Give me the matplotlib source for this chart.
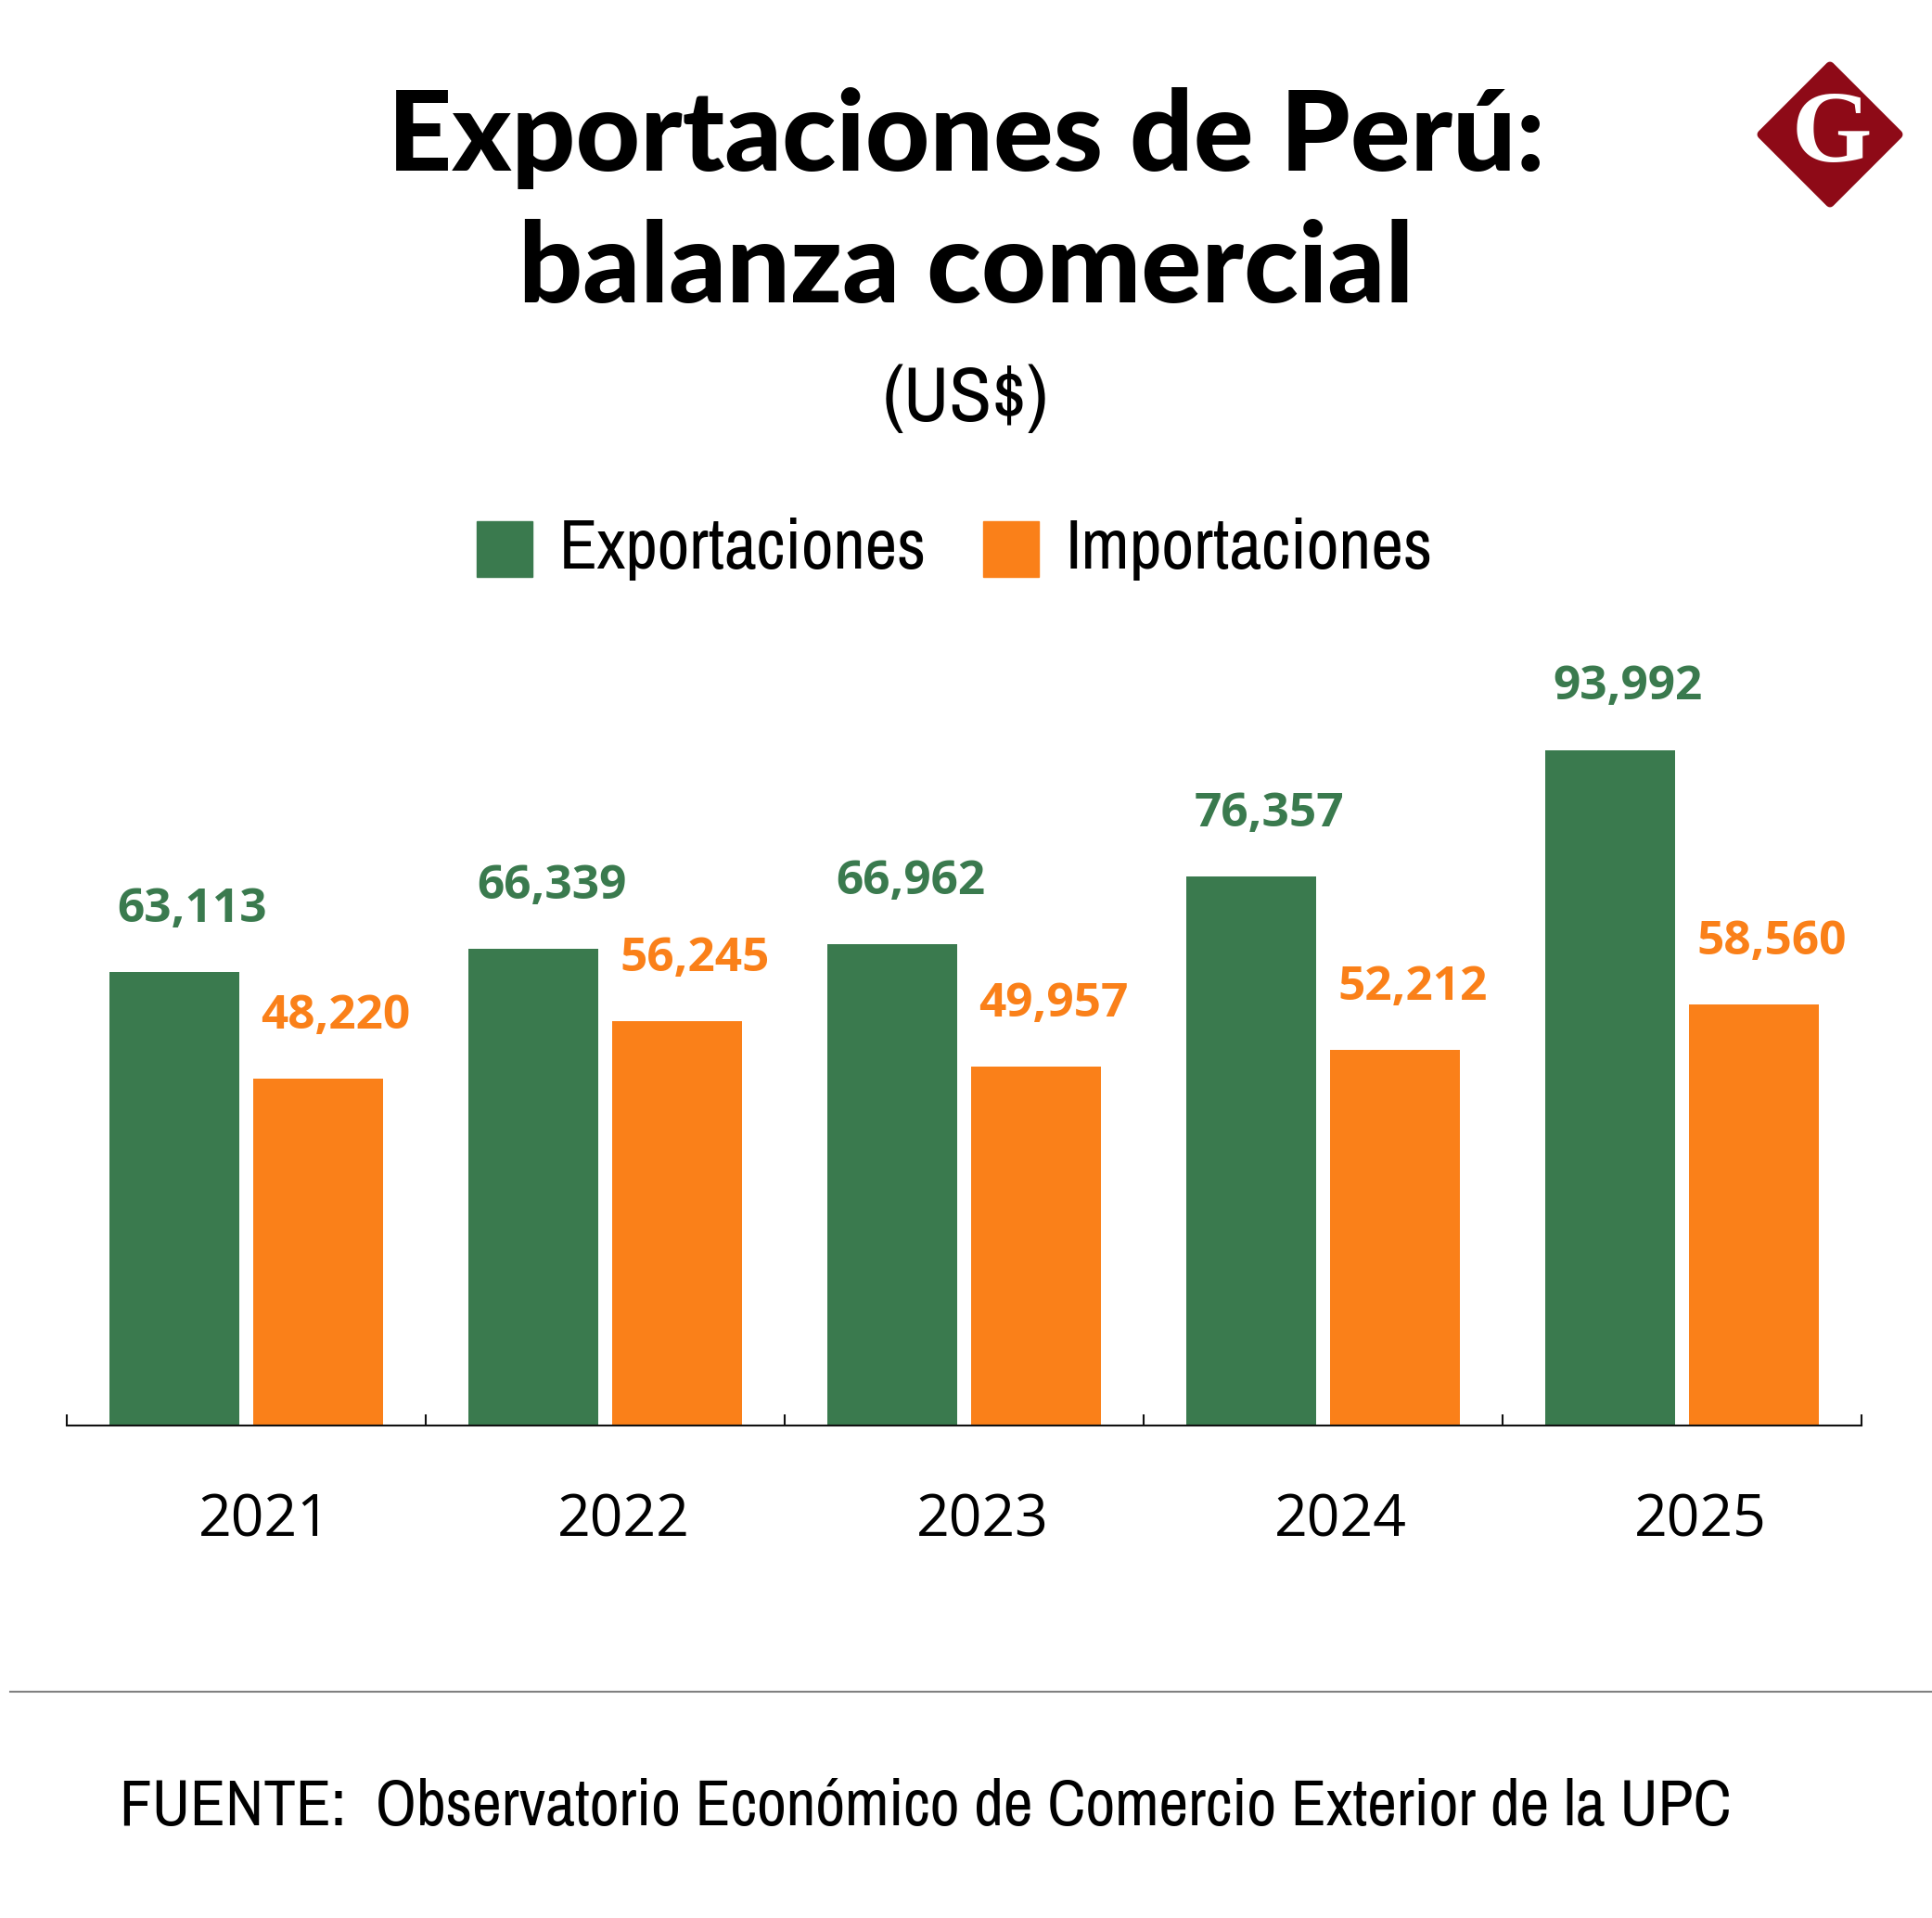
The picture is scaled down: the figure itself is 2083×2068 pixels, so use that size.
import matplotlib
matplotlib.use("Agg")
import matplotlib.pyplot as plt
from matplotlib import font_manager
from matplotlib.font_manager import FontProperties
from matplotlib.patches import Rectangle, Polygon
from matplotlib.lines import Line2D
import numpy as np

# data
years = ["2021", "2022", "2023", "2024", "2025"]
exportaciones = [63113, 66339, 66962, 76357, 93992]
importaciones = [48220, 56245, 49957, 52212, 58560]

GREEN = "#3A7A4E"
ORANGE = "#FA8019"
W, H = 2083, 2068


def pick(names):
    for n in names:
        try:
            font_manager.findfont(n, fallback_to_default=False)
            return n
        except Exception:
            pass
    return "DejaVu Sans"


def narrow_file():
    # look for a condensed / narrow face that is not bold
    best = None
    for f in font_manager.fontManager.ttflist:
        nm = f.name.lower()
        if ("cond" in nm or "narrow" in nm) and f.style == "normal":
            w = f.weight if isinstance(f.weight, int) else 400
            if w > 450 or "bold" in nm or "black" in nm:
                continue
            score = abs(w - 370)
            if best is None or score < best[0]:
                best = (score, f.fname)
    return best[1] if best else None


heavy_font = pick(["Lato", "Roboto"])
num_font = pick(["Open Sans", "Noto Sans", "Roboto"])
nf = narrow_file()
if nf:
    TP = dict(fontproperties=FontProperties(fname=nf))
else:
    TP = dict(family=pick(["Roboto", "Open Sans"]))


def fy(px):
    return 1 - px / H


def fx(px):
    return px / W


fig = plt.figure(figsize=(W / 100, H / 100), dpi=100)
fig.patch.set_facecolor("white")
renderer = fig.canvas.get_renderer()


def fit(t, target_px):
    # scale a text so it spans target_px wide
    bb = t.get_window_extent(renderer)
    t.set_fontsize(t.get_fontsize() * target_px / bb.width)


# title block
t1 = fig.text(0.5, fy(184), "Exportaciones de Perú:", ha="center", va="baseline",
              fontsize=80, fontweight="black", family=heavy_font)
t2 = fig.text(0.5, fy(326), "balanza comercial", ha="center", va="baseline",
              fontsize=80, fontweight="black", family=heavy_font)
fit(t1, 1249)
fit(t2, 967)
t3 = fig.text(0.5, fy(454), "(US$)", ha="center", va="baseline", **TP)
t3.set_fontsize(48)
fit(t3, 179)

# legend (drawn by hand)
for x0, col, lab, wd in [(514, GREEN, "Exportaciones", 397), (1060, ORANGE, "Importaciones", 396)]:
    fig.add_artist(Rectangle((fx(x0), fy(622)), 60 / W, 60 / H, color=col,
                             transform=fig.transFigure))
    lt = fig.text(fx(x0 + 89), fy(613), lab, ha="left", va="baseline", **TP)
    lt.set_fontsize(45)
    fit(lt, wd)

# bars
ax = fig.add_axes([fx(72), fy(1537), fx(2007) - fx(72), fy(700) - fy(1537)])
x = np.arange(len(years))
bw = 0.36
off = 0.2
b1 = ax.bar(x - off, exportaciones, bw, color=GREEN)
b2 = ax.bar(x + off, importaciones, bw, color=ORANGE)

for bars, vals, col in [(b1, exportaciones, GREEN), (b2, importaciones, ORANGE)]:
    for rect, v in zip(bars, vals):
        ax.annotate(f"{v:,}", xy=(rect.get_x() + rect.get_width() / 2 + 0.05, v),
                    xytext=(0, 39), textcoords="offset points",
                    ha="center", va="baseline", fontsize=37, fontweight="bold",
                    color=col, family=num_font)

ax.set_xlim(-0.5, len(years) - 0.5)
ax.set_ylim(0, 108000)
for s in ["top", "right", "left"]:
    ax.spines[s].set_visible(False)
ax.spines["bottom"].set_linewidth(1.5)
ax.spines["bottom"].set_color("#111111")
ax.set_yticks([])
ax.set_xticks(np.arange(-0.5, len(years), 1.0), minor=True)
ax.set_xticks([])
ax.tick_params(axis="x", which="minor", direction="in", length=9, width=1.5, color="#111111")

for i, y in enumerate(years):
    ax.annotate(y, xy=(i + 0.05, 0), xycoords=("data", "axes fraction"),
                xytext=(0, -86), textcoords="offset points",
                ha="center", va="baseline", fontsize=45, family=num_font)

# footer
fig.add_artist(Line2D([fx(11), 1], [fy(1824), fy(1824)], color="#808080",
                      linewidth=1.5, transform=fig.transFigure))
ft = fig.text(fx(129), fy(1968), "FUENTE:  Observatorio Económico de Comercio Exterior de la UPC",
              ha="left", va="baseline", **TP)
ft.set_fontsize(50)
fit(ft, 1740)

# logo
lax = fig.add_axes([fx(1893), fy(225), 160 / W, 160 / H])
lax.set_xlim(0, 1)
lax.set_ylim(0, 1)
lax.axis("off")
lax.add_patch(Polygon([(0.5, 0.04), (0.96, 0.5), (0.5, 0.96), (0.04, 0.5)], closed=True,
                      facecolor="#8E0A17", edgecolor="#8E0A17", linewidth=7,
                      joinstyle="round"))
lax.text(0.51, 0.49, "G", ha="center", va="center", fontsize=80, fontweight="bold",
         color="white", family=pick(["Liberation Serif", "DejaVu Serif"]))

fig.savefig("out.png", dpi=100)
